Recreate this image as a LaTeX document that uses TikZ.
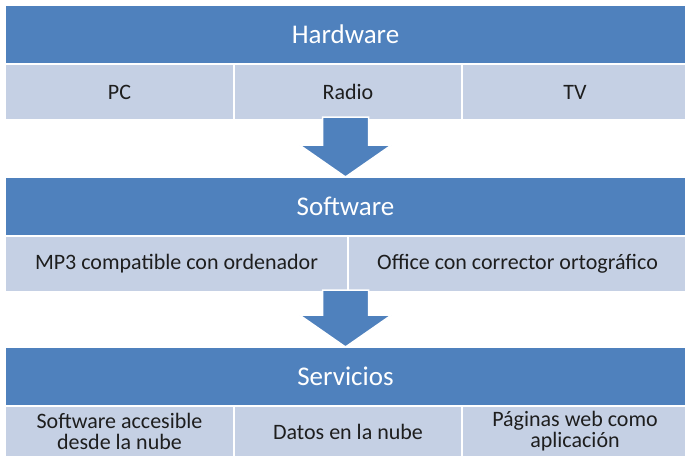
\documentclass[tikz,border=0pt]{standalone}
\usepackage{fontspec}
\setmainfont{Carlito}
\usetikzlibrary{positioning,calc}
\definecolor{headblue}{HTML}{4F81BD}
\definecolor{cellblue}{HTML}{C5D0E4}
\definecolor{celltext}{HTML}{1E1E1E}

\begin{document}
\begin{tikzpicture}
            [x=1pt, y=1pt,
            head/.style={anchor=north west, fill=headblue, draw=white, line width=1pt, minimum width=680pt, minimum height=58pt, inner sep=0pt, text=white, font=\fontsize{27}{30}\selectfont},
            cell/.style={fill=cellblue, draw=white, line width=1pt, minimum height=55pt, inner sep=0pt, text=celltext, align=center, font=\fontsize{22}{21}\selectfont},
            blockarrow/.style={fill=headblue, draw=white, line width=1.5pt, line join=miter}]

            \useasboundingbox (0,0) rectangle (685,-455);

            % Hardware
            \node[head] (hw) at (5,-5) {Hardware};
            \node[cell, anchor=north west, minimum width=228pt] (pc) at (hw.south west) {PC};
            \node[cell, minimum width=227pt, right=0pt of pc] (radio) {Radio};
            \node[cell, minimum width=225pt, right=0pt of radio] (tv) {TV};

            % Software
            \node[head] (sw) at (5,-177) {Software};
            \node[cell, anchor=north west, minimum width=342pt] (mp3) at (sw.south west) {MP3 compatible con ordenador};
            \node[cell, minimum width=338pt, right=0pt of mp3] (office) {Office con corrector ortográfico};

            % Servicios
            \node[head] (sv) at (5,-347) {Servicios};
            \node[cell, anchor=north west, minimum width=228pt, minimum height=50pt] (acc) at (sv.south west) {Software accesible\\desde la nube};
            \node[cell, minimum width=227pt, minimum height=50pt, right=0pt of acc] (datos) {Datos en la nube};
            \node[cell, minimum width=225pt, minimum height=50pt, right=0pt of datos] (web) {Páginas web como\\aplicación};

            % flechas
            \draw[blockarrow] (sw.north) -- ++(-46,32) -- ++(23,0) -- ++(0,28) -- ++(46,0) -- ++(0,-28) -- ++(23,0) -- cycle;
            \draw[blockarrow] (sv.north) -- ++(-46,32) -- ++(23,0) -- ++(0,25) -- ++(46,0) -- ++(0,-25) -- ++(23,0) -- cycle;

        \end{tikzpicture}
\end{document}
